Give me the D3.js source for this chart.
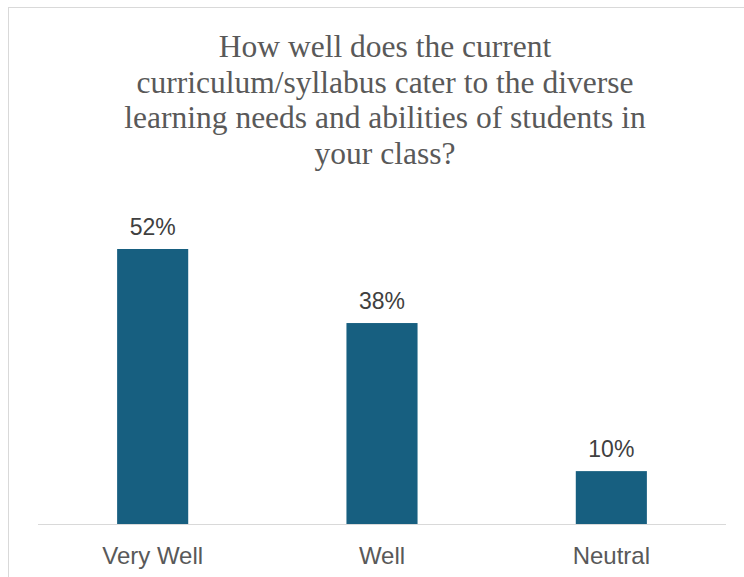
<!DOCTYPE html>
<html>
<head>
<meta charset="utf-8">
<script src="https://cdn.jsdelivr.net/npm/d3@7"></script>
<style>
  html, body { margin: 0; padding: 0; background: #fff; }
  svg { display: block; }
</style>
</head>
<body>
<div id="chart"></div>
<script>
const categories = ["Very Well", "Well", "Neutral"];
const values = [52, 38, 10];
const valueLabels = ["52%", "38%", "10%"];
const titleLines = [
  "How well does the current",
  "curriculum/syllabus cater to the diverse",
  "learning needs and abilities of students in",
  "your class?"
];

const W = 744, H = 577;
const svg = d3.select("#chart").append("svg").attr("width", W).attr("height", H);

svg.append("rect")
  .attr("x", 8.5).attr("y", 7.5)
  .attr("width", W + 20).attr("height", H + 20)
  .attr("fill", "#fff").attr("stroke", "#d9d9d9").attr("stroke-width", 1);

const title = svg.append("text")
  .attr("text-anchor", "middle")
  .attr("font-family", "'Liberation Serif', 'Times New Roman', serif")
  .attr("font-size", 31.5)
  .attr("fill", "#595959");
titleLines.forEach((t, i) => {
  title.append("tspan").attr("x", 385).attr("y", 57 + i * 35.5).text(t);
});

const x = d3.scaleBand().domain(categories).range([38, 726])
  .paddingInner(0.69).paddingOuter(0.345);
const y = d3.scaleLinear().domain([0, 60]).range([524, 206.7]);

svg.selectAll("rect.bar").data(values).join("rect")
  .attr("class", "bar")
  .attr("x", (d, i) => x(categories[i]))
  .attr("y", d => y(d))
  .attr("width", x.bandwidth())
  .attr("height", d => y(0) - y(d))
  .attr("fill", "#175f80");

svg.append("line")
  .attr("x1", 38).attr("x2", 726)
  .attr("y1", 524.5).attr("y2", 524.5)
  .attr("stroke", "#d9d9d9").attr("stroke-width", 1);

svg.selectAll("text.val").data(values).join("text")
  .attr("class", "val")
  .attr("x", (d, i) => x(categories[i]) + x.bandwidth() / 2)
  .attr("y", d => y(d) - 14.5)
  .attr("text-anchor", "middle")
  .attr("font-family", "'Liberation Sans', Arial, sans-serif")
  .attr("font-size", 23)
  .attr("fill", "#404040")
  .text((d, i) => valueLabels[i]);

const xAxis = d3.axisBottom(x).tickSize(0).tickPadding(0);
const gx = svg.append("g").attr("transform", "translate(0,524)").call(xAxis);
gx.select(".domain").remove();
gx.selectAll("text")
  .attr("y", 40)
  .attr("dy", 0)
  .attr("font-family", "'Liberation Sans', Arial, sans-serif")
  .attr("font-size", 24)
  .attr("fill", "#595959");
</script>
</body>
</html>
